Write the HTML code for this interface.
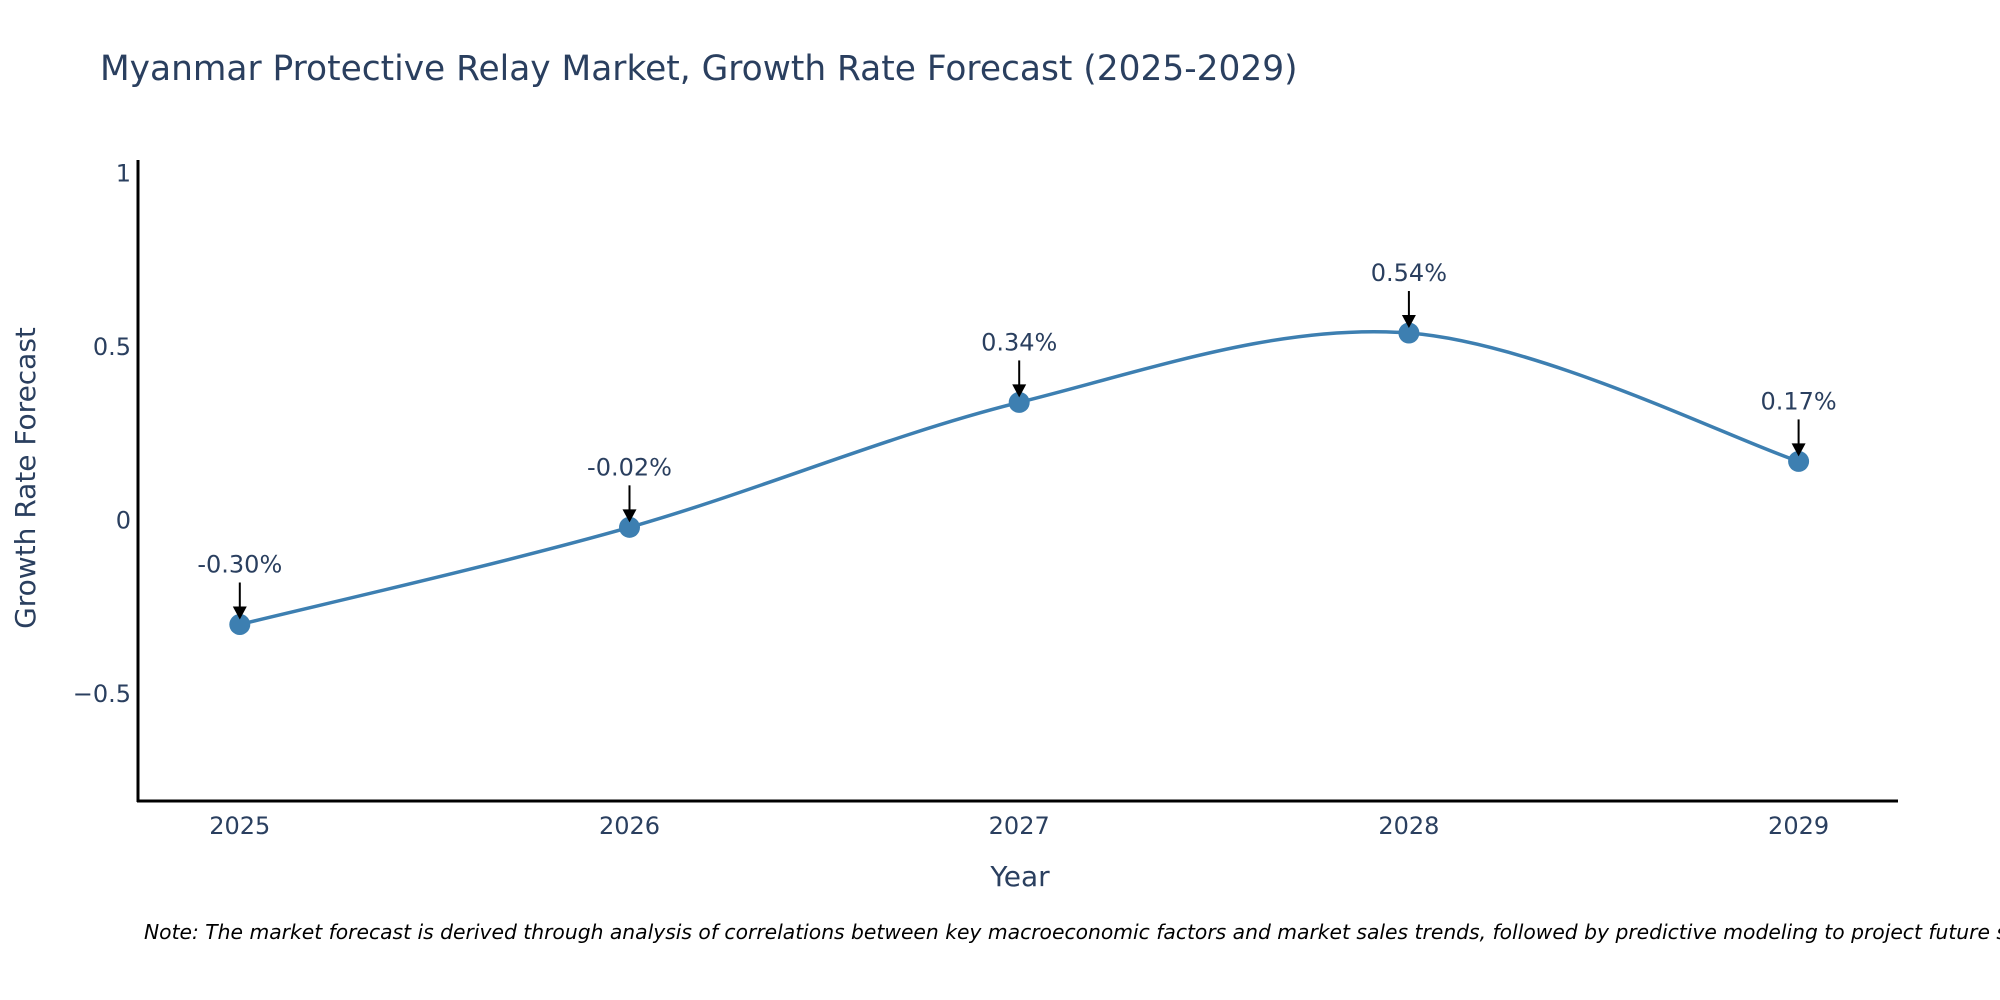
<!DOCTYPE html>
<html><head><meta charset="utf-8"><style>
html,body{margin:0;padding:0;background:#fff;}
svg{display:block;font-family:"DejaVu Sans","Liberation Sans",sans-serif;}
</style></head><body>
<svg id="chart" width="2000" height="1000" viewBox="0 0 2000 1000">
<text x="100" y="80" font-size="34.4" fill="#2a3f5f">Myanmar Protective Relay Market, Growth Rate Forecast (2025-2029)</text>
<g id="yticks"></g>
<g id="xticks"></g>
<line x1="138" y1="160" x2="138" y2="802" stroke="#000" stroke-width="3"/>
<line x1="137" y1="801" x2="1898" y2="801" stroke="#000" stroke-width="3"/>
<text x="1020" y="886" font-size="28" fill="#2a3f5f" text-anchor="middle">Year</text>
<text transform="translate(35,478) rotate(-90)" font-size="28" fill="#2a3f5f" text-anchor="middle">Growth Rate Forecast</text>
<g id="series"></g>
<g id="annots"></g>
<text x="144" y="939" font-size="20.3" font-style="italic" fill="#000">Note: The market forecast is derived through analysis of correlations between key macroeconomic factors and market sales trends, followed by predictive modeling to project future sales.</text>
</svg>
<script>
const years = [2025, 2026, 2027, 2028, 2029];
const growth = [-0.30, -0.02, 0.34, 0.54, 0.17];
const labels = ["-0.30%", "-0.02%", "0.34%", "0.54%", "0.17%"];
const yTickVals = [1, 0.5, 0, -0.5];
const yTickText = ["1", "0.5", "0", "\u22120.5"];

const NS = "http://www.w3.org/2000/svg";
function xs(v){ return 239.8 + (v - 2025) * 389.7; }
function ys(v){ return 520.4 - v * 347; }
function mk(tag, attrs, parent){ const e=document.createElementNS(NS,tag); for(const k in attrs) e.setAttribute(k,attrs[k]); parent.appendChild(e); return e; }

const yg=document.getElementById('yticks');
yTickVals.forEach((v,i)=>{
  const t=mk('text',{x:131,y:ys(v)+8,'font-size':24,fill:'#2a3f5f','text-anchor':'end'},yg);
  
  
  t.textContent=yTickText[i];
});
const xg=document.getElementById('xticks');
years.forEach(v=>{
  const t=mk('text',{x:xs(v),y:834,'font-size':24,fill:'#2a3f5f','text-anchor':'middle'},xg);
  
  
  t.textContent=String(v);
});

const pts=years.map((y,i)=>[xs(y),ys(growth[i])]);
let d=`M${pts[0][0]},${pts[0][1]}`;
for(let i=0;i<pts.length-1;i++){
  const p0=pts[Math.max(0,i-1)],p1=pts[i],p2=pts[i+1],p3=pts[Math.min(pts.length-1,i+2)];
  const c1=[p1[0]+(p2[0]-p0[0])/6, p1[1]+(p2[1]-p0[1])/6];
  const c2=[p2[0]-(p3[0]-p1[0])/6, p2[1]-(p3[1]-p1[1])/6];
  d+=` C${c1[0]},${c1[1]} ${c2[0]},${c2[1]} ${p2[0]},${p2[1]}`;
}
const sg=document.getElementById('series');
const line=mk('path',{d:d,fill:'none',stroke:'#3d7fb1','stroke-width':3.5},sg);


pts.forEach(p=>{
  const c=mk('circle',{cx:p[0],cy:p[1],r:10.5,fill:'#3d7fb1'},sg);
  
  
});

const ag=document.getElementById('annots');
pts.forEach((p,i)=>{
  const l=mk('line',{x1:p[0],y1:p[1]-42,x2:p[0],y2:p[1]-16,stroke:'#000','stroke-width':2},ag);
  
  
  const h=mk('polygon',{points:`${p[0]-7},${p[1]-18} ${p[0]+7},${p[1]-18} ${p[0]},${p[1]-5}`,fill:'#000'},ag);
  
  
  const t=mk('text',{x:p[0],y:p[1]-52,'font-size':24,fill:'#2a3f5f','text-anchor':'middle'},ag);
  
  
  t.textContent=labels[i];
});
</script>
</body></html>
